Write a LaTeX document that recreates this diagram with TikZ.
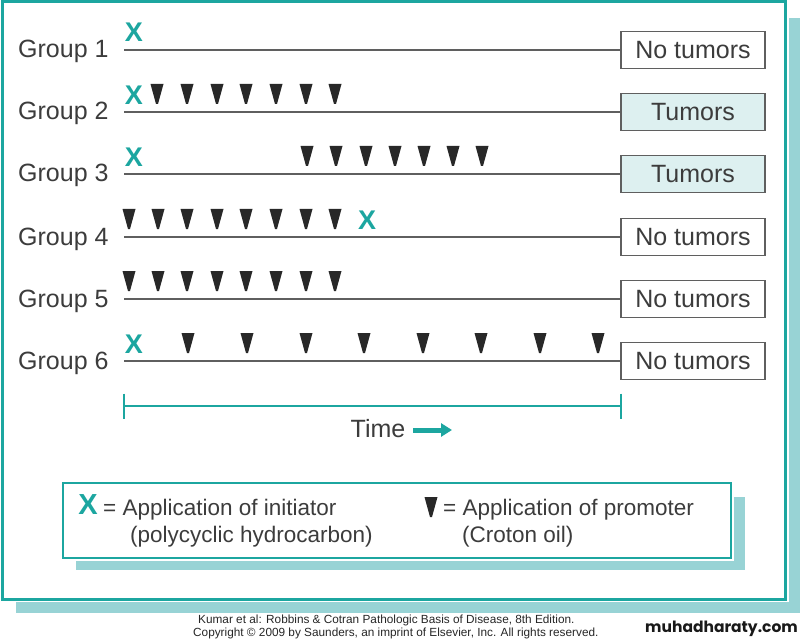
\documentclass[tikz,border=0pt]{standalone}
\usepackage{fontspec}
\setmainfont{Liberation Sans}
\newfontfamily\logofont{Poppins}
\usetikzlibrary{arrows.meta}
\definecolor{teal1}{RGB}{28,166,160}
\definecolor{shadowc}{RGB}{152,211,213}
\definecolor{tumorfill}{RGB}{221,240,240}
\definecolor{linegray}{RGB}{95,95,95}
\definecolor{txtgray}{RGB}{60,60,60}
\definecolor{promc}{RGB}{40,40,40}
\begin{document}
\begin{tikzpicture}[x=1pt,y=-1pt,
  grplabel/.style={anchor=base west, inner sep=0, font=\fontsize{25}{30}\selectfont, text=txtgray},
  initx/.style={inner sep=0, font=\fontsize{27}{30}\selectfont\bfseries, text=teal1},
  resbox/.style={draw=linegray, line width=1.5pt, minimum width=144pt, minimum height=37pt, inner sep=0, font=\fontsize{25}{30}\selectfont, text=txtgray, fill=white},
  tumorbox/.style={resbox, fill=tumorfill},
  grpline/.style={draw=linegray, line width=2pt},
  legtext/.style={anchor=base west, inner sep=0, font=\fontsize{22.5}{27}\selectfont, text=txtgray},
  credit/.style={anchor=base west, inner sep=0, font=\fontsize{11.8}{13}\selectfont, text=black!85},
  promoter/.pic={\fill[promc] (-6.5,-10) -- (6.5,-10) -- (1,10) -- (-1,10) -- cycle;},
]
\useasboundingbox (0,0) rectangle (800,639);
% page frame with shadow
\fill[shadowc] (16,18) rectangle (800,613);
\fill[white] (0,0) rectangle (789,602);
\draw[teal1, line width=3pt] (2,2) rectangle (785,599);

% Group 1
\node[grplabel] (g1) at (18,58) {Group 1};
\coordinate (s1) at (124,50);
\node[resbox] (r1) at (693,50) {No tumors};
\draw[grpline] (s1) -- (r1.west);
\node[initx] (x1) at (134,32) {X};

% Group 2
\node[grplabel] (g2) at (18,120) {Group 2};
\coordinate (s2) at (124,112);
\node[tumorbox] (r2) at (693,112) {Tumors};
\draw[grpline] (s2) -- (r2.west);
\node[initx] (x2) at (134,95) {X};
\foreach \x in {157,187,217,246,276,306,335} \pic at (\x,94) {promoter};

% Group 3
\node[grplabel] (g3) at (18,182) {Group 3};
\coordinate (s3) at (124,174);
\node[tumorbox] (r3) at (693,174) {Tumors};
\draw[grpline] (s3) -- (r3.west);
\node[initx] (x3) at (134,157) {X};
\foreach \x in {307,336,366,395,424,453,482} \pic at (\x,156) {promoter};

% Group 4
\node[grplabel] (g4) at (18,245) {Group 4};
\coordinate (s4) at (124,237);
\node[resbox] (r4) at (693,237) {No tumors};
\draw[grpline] (s4) -- (r4.west);
\foreach \x in {129,158,187,217,246,276,306,335} \pic at (\x,219) {promoter};
\node[initx] (x4) at (367,220) {X};

% Group 5
\node[grplabel] (g5) at (18,307) {Group 5};
\coordinate (s5) at (124,299);
\node[resbox] (r5) at (693,299) {No tumors};
\draw[grpline] (s5) -- (r5.west);
\foreach \x in {129,158,187,217,246,276,306,335} \pic at (\x,281) {promoter};

% Group 6
\node[grplabel] (g6) at (18,369) {Group 6};
\coordinate (s6) at (124,361);
\node[resbox] (r6) at (693,361) {No tumors};
\draw[grpline] (s6) -- (r6.west);
\node[initx] (x6) at (134,344) {X};
\foreach \x in {188,247,306,364,423,481,540,598} \pic at (\x,343) {promoter};

% Time axis
\coordinate (t0) at (124,406);
\coordinate (t1) at (621,406);
\draw[teal1, line width=2.5pt] (t0) -- (t1);
\draw[teal1, line width=2pt] (t0) ++(0,-12.5) -- ++(0,25);
\draw[teal1, line width=2pt] (t1) ++(0,-12.5) -- ++(0,25);
\node[inner sep=0, font=\fontsize{25}{30}\selectfont, text=txtgray, anchor=base] (time) at (378,437) {Time};
\coordinate (a0) at (413,430);
\coordinate (a1) at (452,430);
\draw[teal1, line width=5pt, -{Triangle[length=11pt,width=13pt]}] (a0) -- (a1);

% Legend
\fill[shadowc] (76,497) rectangle (745,570);
\fill[white] (61,481) rectangle (734,561);
\draw[teal1, line width=1.5pt, fill=white] (63,483) rectangle (731,558);
\node[initx, font=\fontsize{29}{32}\selectfont\bfseries] (lx) at (88,505) {X};
\node[legtext] (l1) at (103,515) {= Application of initiator};
\node[legtext] (l2) at (130,542) {(polycyclic hydrocarbon)};
\pic at (431,507) {promoter};
\node[legtext] (l3) at (443,515) {= Application of promoter};
\node[legtext] (l4) at (462,542) {(Croton oil)};

% Credits
\node[credit] (c1) at (198,623) {Kumar et al: Robbins \& Cotran Pathologic Basis of Disease, 8th Edition.};
\node[credit] (c2) at (193,636) {Copyright © 2009 by Saunders, an imprint of Elsevier, Inc. All rights reserved.};
\node[anchor=base west, inner sep=0, font=\logofont\fontsize{15.5}{18}\selectfont\bfseries, text=black!90] (logo) at (645,632) {muhadharaty.com};
\end{tikzpicture}
\end{document}
